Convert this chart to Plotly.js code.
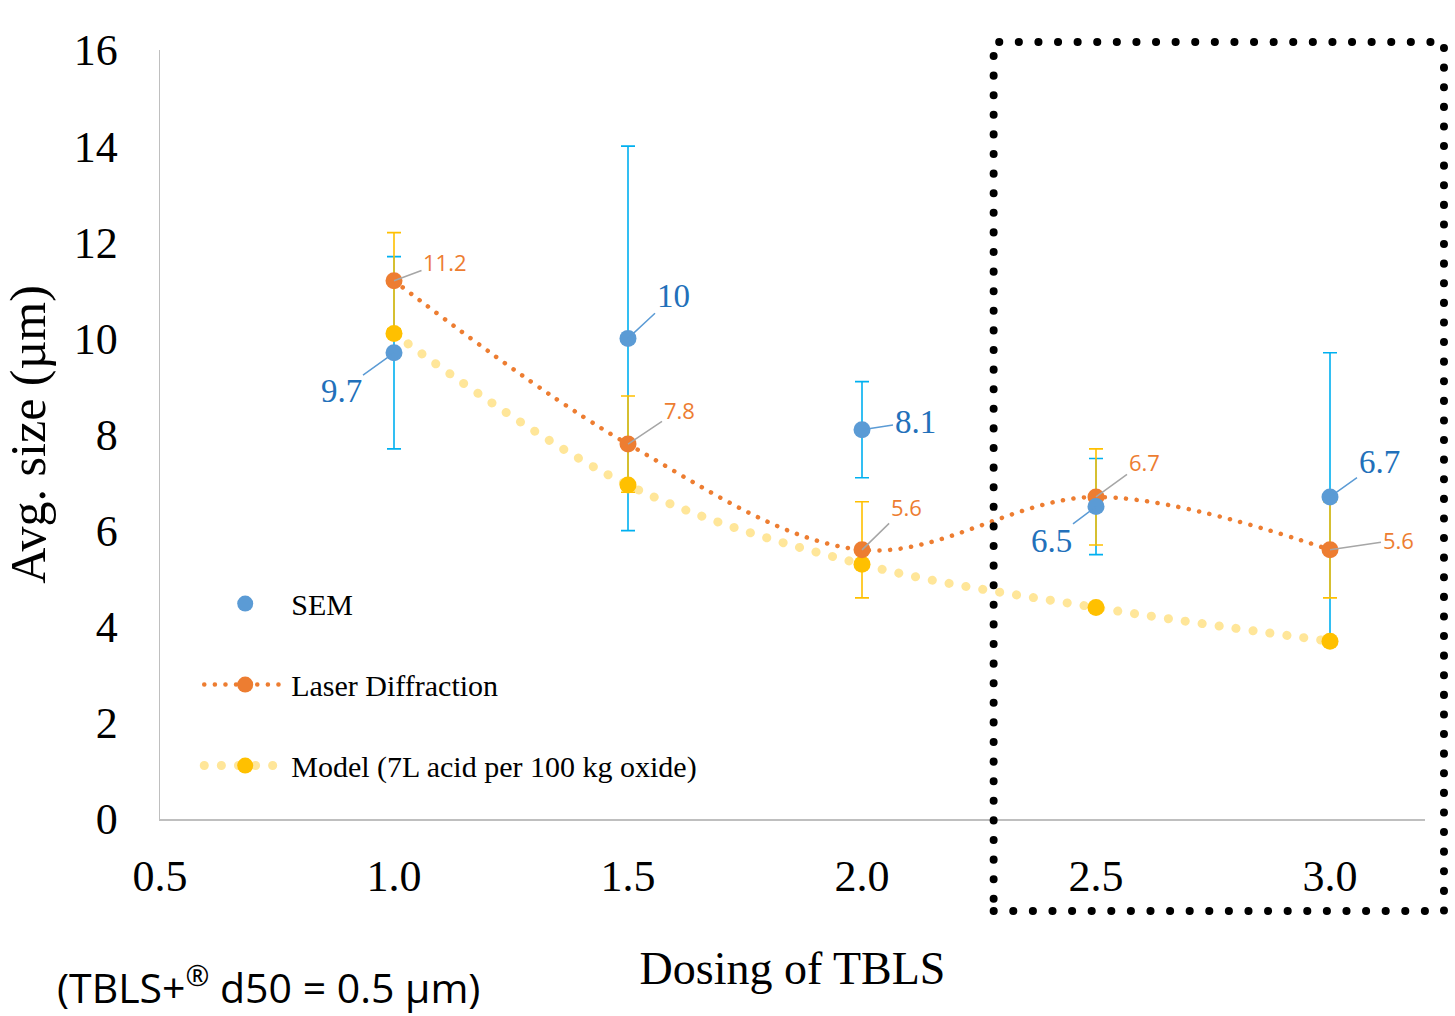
<!DOCTYPE html>
<html>
<head>
<meta charset="utf-8">
<script src="https://cdn.plot.ly/plotly-3.0.1.min.js"></script>
<style>html,body{margin:0;padding:0;background:#fff;}#chart{width:1455px;height:1016px;}</style>
</head>
<body>
<div id="chart"></div>
<script>
// ---- data ----
const doses = [1.0, 1.5, 2.0, 2.5, 3.0];
const semValues = [9.7, 10, 8.1, 6.5, 6.7];
const semErrors = [2, 4, 1, 1, 3];
const laserValues = [11.2, 7.8, 5.6, 6.7, 5.6];
const laserErrors = [1, 1, 1, 1, 1];
const modelValues = [10.1, 6.95, 5.3, 4.4, 3.7];
const seriesNames = ['SEM', 'Laser Diffraction', 'Model (7L acid per 100 kg oxide)'];
const yTickValues = [0, 2, 4, 6, 8, 10, 12, 14, 16];
const xTickValues = [0.5, 1.0, 1.5, 2.0, 2.5, 3.0];

// ---- label offsets (px) ----
const semLabelOffsets = [[-53, 38], [45, -42], [53, -8], [-45, 34], [49, -35]];
const laserLabelOffsets = [[51, -19], [51, -34], [44, -43], [48, -35], [68, -10]];

const serif = 'Liberation Serif, Times New Roman, serif';
const sans = 'Open Sans, Liberation Sans, sans-serif';

const traces = [
  { // SEM error bars (drawn beneath)
    x: doses, y: semValues, type: 'scatter', mode: 'markers',
    marker: {size: 1, color: 'rgba(0,0,0,0)'},
    error_y: {type: 'data', array: semErrors, visible: true, color: '#00B0F0', thickness: 1.6, width: 7},
    showlegend: false, hoverinfo: 'skip'
  },
  {
    x: doses, y: modelValues, type: 'scatter', mode: 'lines+markers', name: seriesNames[2],
    line: {color: '#FFE699', width: 9, dash: '0.1px,17px', shape: 'spline', smoothing: 1},
    marker: {color: '#FFC000', size: 17},
    legendgroup: 'c', legendrank: 3
  },
  {
    x: doses, y: laserValues, type: 'scatter', mode: 'lines+markers', name: seriesNames[1],
    line: {color: '#ED7D31', width: 4.5, dash: '0.1px,10.5px', shape: 'spline', smoothing: 1},
    marker: {color: '#ED7D31', size: 17},
    error_y: {type: 'data', array: laserErrors, visible: true, color: '#FFC000', thickness: 1.6, width: 7},
    legendgroup: 'b', legendrank: 2
  },
  {
    x: doses, y: semValues, type: 'scatter', mode: 'markers', name: seriesNames[0],
    marker: {color: '#5B9BD5', size: 17},
    legendgroup: 'a', legendrank: 1
  }
];

const annotations = [];
doses.forEach((d, i) => {
  annotations.push({
    x: d, y: semValues[i], xref: 'x', yref: 'y', text: String(semValues[i]),
    showarrow: true, arrowhead: 0, arrowwidth: 1.5, arrowcolor: '#5B9BD5', standoff: 0,
    ax: semLabelOffsets[i][0], ay: semLabelOffsets[i][1],
    font: {family: serif, size: 33, color: '#2270BA'}
  });
  annotations.push({
    x: d, y: laserValues[i], xref: 'x', yref: 'y', text: String(laserValues[i]),
    showarrow: true, arrowhead: 0, arrowwidth: 1.5, arrowcolor: '#A6A6A6', standoff: 0,
    ax: laserLabelOffsets[i][0], ay: laserLabelOffsets[i][1],
    font: {family: sans, size: 22, color: '#ED7D31'}
  });
});
annotations.push({
  xref: 'paper', yref: 'paper', x: 0.0854, y: -0.2565, xanchor: 'center', yanchor: 'bottom',
  text: '(TBLS+<sup>®</sup> d50 = 0.5 µm)', showarrow: false, borderpad: 0,
  font: {family: sans, size: 41, color: '#000'}
});

const layout = {
  width: 1455, height: 1016,
  margin: {l: 160, r: 30, t: 50, b: 197},
  paper_bgcolor: '#fff', plot_bgcolor: '#fff',
  showlegend: true,
  legend: {
    x: 0.031, y: 0.314, xanchor: 'left', yanchor: 'top',
    bgcolor: 'rgba(0,0,0,0)', borderwidth: 0,
    font: {family: serif, size: 30, color: '#000'},
    itemwidth: 82, tracegroupgap: 39, traceorder: 'grouped'
  },
  xaxis: {
    range: [0.5, 0.5 + 1265 / 468], tickvals: xTickValues, ticktext: xTickValues.map(v => v.toFixed(1)),
    showgrid: false, zeroline: false, showline: true, linecolor: '#BFBFBF', linewidth: 1.5,
    ticks: '', ticklabelstandoff: 18,
    tickfont: {family: serif, size: 44, color: '#000'},
    title: {text: 'Dosing of TBLS', font: {family: serif, size: 46, color: '#000'}, standoff: 51}
  },
  yaxis: {
    range: [0, 16], tickvals: yTickValues,
    showgrid: false, zeroline: false, showline: true, linecolor: '#BFBFBF', linewidth: 1.5,
    ticks: '', ticklabelstandoff: 32,
    tickfont: {family: serif, size: 44, color: '#000'},
    title: {text: 'Avg. size (µm)', font: {family: serif, size: 50, color: '#000'}, standoff: 14}
  },
  shapes: [{
    type: 'rect', xref: 'paper', yref: 'paper',
    x0: 0.659, x1: 1.015, y0: -0.1196, y1: 1.0104,
    line: {color: '#000', width: 8, dash: '0.1px,19.5px'}, fillcolor: 'rgba(0,0,0,0)'
  }],
  annotations: annotations
};

const gd = document.getElementById('chart');
Plotly.newPlot(gd, traces, layout, {displayModeBar: false, staticPlot: true}).then(() => {
  gd.querySelectorAll('.scatterlayer path.js-line, .legend path').forEach(p => {
    p.style.strokeLinecap = 'round';
  });
  gd.querySelectorAll('.shapelayer path').forEach(p => { p.style.strokeLinecap = 'round'; });
});
</script>
</body>
</html>
